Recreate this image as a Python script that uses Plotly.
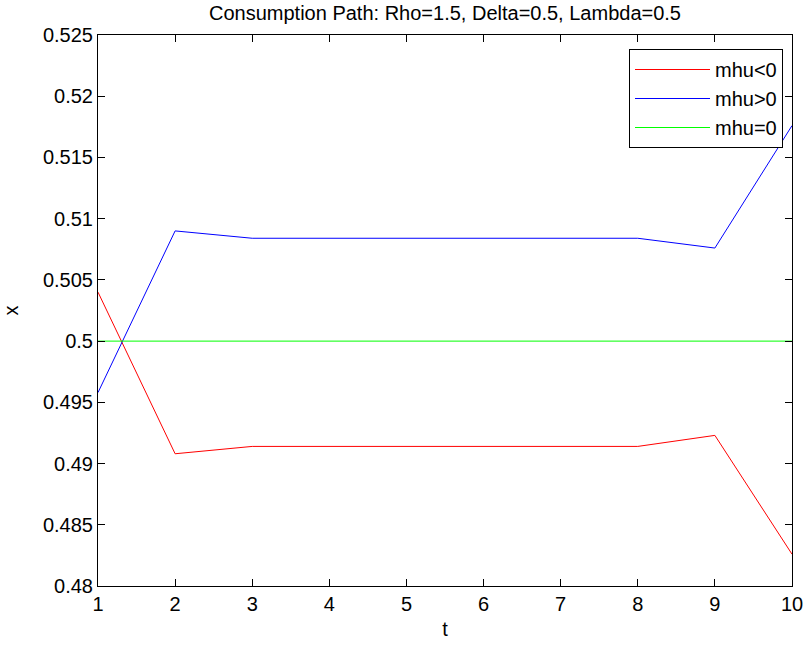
import plotly.graph_objects as go

t = [1, 2, 3, 4, 5, 6, 7, 8, 9, 10]
mhu_neg = [0.5040, 0.4908, 0.4914, 0.4914, 0.4914, 0.4914, 0.4914, 0.4914, 0.4923, 0.4826]
mhu_pos = [0.4958, 0.5090, 0.5084, 0.5084, 0.5084, 0.5084, 0.5084, 0.5084, 0.5076, 0.5176]
mhu_zero = [0.5] * 10
y_ticks = [0.48, 0.485, 0.49, 0.495, 0.5, 0.505, 0.51, 0.515, 0.52, 0.525]
y_labels = ["0.48", "0.485", "0.49", "0.495", "0.5", "0.505", "0.51", "0.515", "0.52", "0.525"]
x_ticks = t

FONT = "Liberation Sans, Arial, sans-serif"
FS = 20

W, H = 804, 645
L, R, T, B = 98, 12, 35, 59
pw = W - L - R
ph = H - T - B

fig = go.Figure()
fig.add_trace(go.Scatter(x=t, y=mhu_neg, mode="lines", name="mhu<0",
                         line=dict(color="#ff0000", width=1)))
fig.add_trace(go.Scatter(x=t, y=mhu_pos, mode="lines", name="mhu>0",
                         line=dict(color="#0000ff", width=1)))
fig.add_trace(go.Scatter(x=t, y=mhu_zero, mode="lines", name="mhu=0",
                         line=dict(color="#00ff00", width=1)))

axis_common = dict(
    showgrid=False, zeroline=False, showline=True, linecolor="black", linewidth=1,
    mirror="ticks", ticks="inside", ticklen=7, tickcolor="black", tickwidth=1,
    tickfont=dict(family=FONT, size=FS, color="black"), automargin=False,
)

fig.update_layout(
    width=W, height=H,
    paper_bgcolor="white", plot_bgcolor="white",
    margin=dict(l=L, r=R, t=T, b=B),
    title=dict(text="Consumption Path: Rho=1.5, Delta=0.5, Lambda=0.5",
               x=0.5, xref="paper", xanchor="center",
               y=1 - 12.5 / H, yref="container", yanchor="middle",
               font=dict(family=FONT, size=FS, color="black")),
    xaxis=dict(range=[1, 10], tickvals=x_ticks, ticktext=[str(v) for v in x_ticks],
               title=dict(text="t", font=dict(family=FONT, size=FS, color="black"), standoff=7),
               **axis_common),
    yaxis=dict(range=[0.48, 0.525], tickvals=y_ticks, ticktext=y_labels,
               title=dict(text="x", font=dict(family=FONT, size=FS, color="black"), standoff=18),
               **axis_common),
    legend=dict(x=(783 - L) / pw, y=(H - B - 49) / ph, xanchor="right", yanchor="top",
                bgcolor="white", bordercolor="black", borderwidth=1,
                font=dict(family=FONT, size=FS, color="black"),
                itemwidth=75),
    showlegend=True,
)

# remove the browser's default 8px body margin so the figure sits at (0, 0)
fig.write_html("out.html", config={"displayModeBar": False},
               post_script="document.body.style.margin='0';")
